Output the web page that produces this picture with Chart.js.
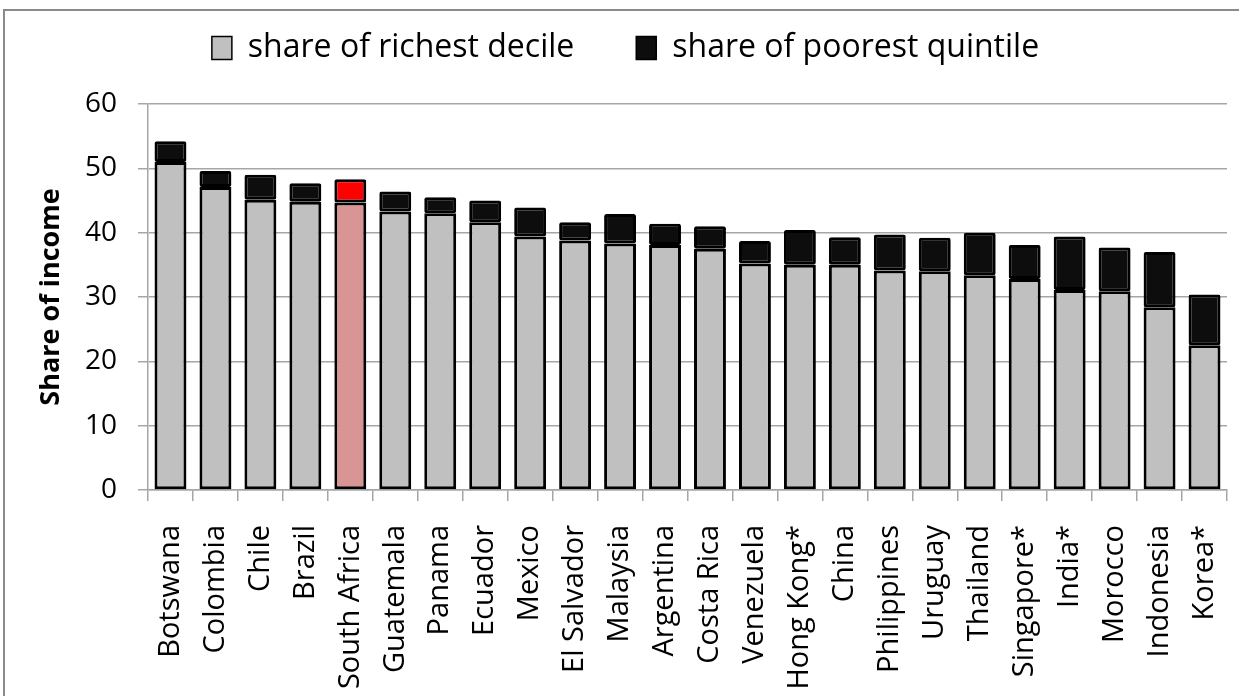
<!DOCTYPE html>
<html>
<head>
<meta charset="utf-8">
<script src="https://cdn.jsdelivr.net/npm/chart.js@4/dist/chart.umd.min.js"></script>
<style>
  html, body { margin: 0; padding: 0; background: #fff; }
  #wrap { width: 1239px; height: 696px; position: relative; }
  canvas { display: block; }
</style>
</head>
<body>
<div id="wrap"><canvas id="c" width="1239" height="696"></canvas></div>
<script>
const countries = ["Botswana","Colombia","Chile","Brazil","South Africa","Guatemala","Panama","Ecuador","Mexico","El Salvador","Malaysia","Argentina","Costa Rica","Venezuela","Hong Kong*","China","Philippines","Uruguay","Thailand","Singapore*","India*","Morocco","Indonesia","Korea*"];
const richestDecile = [51.0,47.1,45.1,44.8,44.7,43.3,43.0,41.6,39.4,38.8,38.3,38.1,37.5,35.2,35.0,35.0,34.1,34.0,33.4,32.8,31.1,30.9,28.4,22.5];
const poorestQuintile = [3.2,2.5,3.9,2.9,3.6,3.1,2.5,3.4,4.5,2.8,4.6,3.3,3.5,3.5,5.4,4.3,5.6,5.2,6.6,5.3,8.3,6.8,8.6,7.9];
const yTicks = [0,10,20,30,40,50,60];
const seriesNames = ["share of richest decile","share of poorest quintile"];
const highlight = "South Africa";

const greyFill = countries.map(c => c === highlight ? '#D99594' : '#C0C0C0');
const blackFill = countries.map(c => c === highlight ? '#FF0000' : '#0D0D0D');

Chart.defaults.font.family = "'Open Sans', sans-serif";
Chart.defaults.color = '#000';

const GRID = '#a6a6a6';

const frame = {
  id: 'frame',
  beforeDraw(chart) {
    const ctx = chart.ctx;
    ctx.save();
    ctx.fillStyle = '#fff';
    ctx.fillRect(0, 0, chart.width, chart.height);
    ctx.strokeStyle = '#8a8a8a';
    ctx.lineWidth = 2;
    ctx.beginPath();
    ctx.moveTo(4, chart.height);
    ctx.lineTo(4, 10);
    ctx.lineTo(chart.width, 10);
    ctx.stroke();
    ctx.restore();
  }
};

// legend: wide horizontal gap between items, fixed height
const LEGEND_PAD = 62;
const TOP_PAD = -30;
const legendHeight = {
  id: 'legendHeight',
  afterInit(chart) {
    const orig = chart.legend.fit;
    chart.legend.fit = function () { orig.call(this); this.height = 104 - TOP_PAD; };
  }
};

new Chart(document.getElementById('c'), {
  type: 'bar',
  data: {
    labels: countries,
    datasets: [
      {
        label: seriesNames[0],
        data: richestDecile,
        backgroundColor: greyFill,
        borderColor: '#000',
        borderWidth: 3,
        borderSkipped: false,
        barPercentage: 0.71,
        categoryPercentage: 1.0
      },
      {
        label: seriesNames[1],
        data: poorestQuintile,
        backgroundColor: blackFill,
        borderColor: '#000',
        borderWidth: 3,
        borderRadius: 2,
        borderSkipped: false,
        barPercentage: 0.71,
        categoryPercentage: 1.0
      }
    ]
  },
  options: {
    responsive: false,
    animation: false,
    devicePixelRatio: 1,
    layout: { padding: { left: 24, right: 12, top: TOP_PAD, bottom: 0 } },
    plugins: {
      tooltip: { enabled: false },
      legend: {
        position: 'top',
        align: 'center',
        labels: {
          font: { size: 32 },
          boxWidth: 20,
          boxHeight: 23,
          padding: LEGEND_PAD,
          color: '#000',
          generateLabels() {
            return [
              { text: seriesNames[0], fillStyle: '#C0C0C0', strokeStyle: '#000', lineWidth: 1.5, hidden: false, datasetIndex: 0 },
              { text: seriesNames[1], fillStyle: '#0D0D0D', strokeStyle: '#000', lineWidth: 1.5, hidden: false, datasetIndex: 1 }
            ];
          }
        }
      }
    },
    scales: {
      x: {
        stacked: true,
        offset: true,
        grid: { display: true, drawOnChartArea: false, drawTicks: true, tickLength: 11, color: GRID, lineWidth: 1.5, offset: true },
        border: { display: true, color: GRID, width: 1.5 },
        ticks: { autoSkip: false, maxRotation: 90, minRotation: 90, padding: 24, font: { size: 29 }, color: '#000' },
        afterFit(scale) { scale.height = 206; scale.paddingLeft = 0; scale.paddingRight = 0; }
      },
      y: {
        stacked: true,
        min: 0,
        max: 60,
        afterBuildTicks(scale) { scale.ticks = yTicks.map(v => ({ value: v })); },
        grid: { color: GRID, lineWidth: 1.5, tickLength: 10, drawTicks: true },
        border: { display: true, color: GRID, width: 1.5 },
        ticks: { padding: 21, font: { size: 28 }, color: '#000' },
        title: { display: true, text: 'Share of income', font: { size: 27, weight: 'bold' }, padding: { top: 11, bottom: 0 }, color: '#000' },
        afterFit(scale) { scale.width = 124; scale.paddingTop = 0; scale.paddingBottom = 0; }
      }
    }
  },
  plugins: [frame, legendHeight]
});
</script>
</body>
</html>
